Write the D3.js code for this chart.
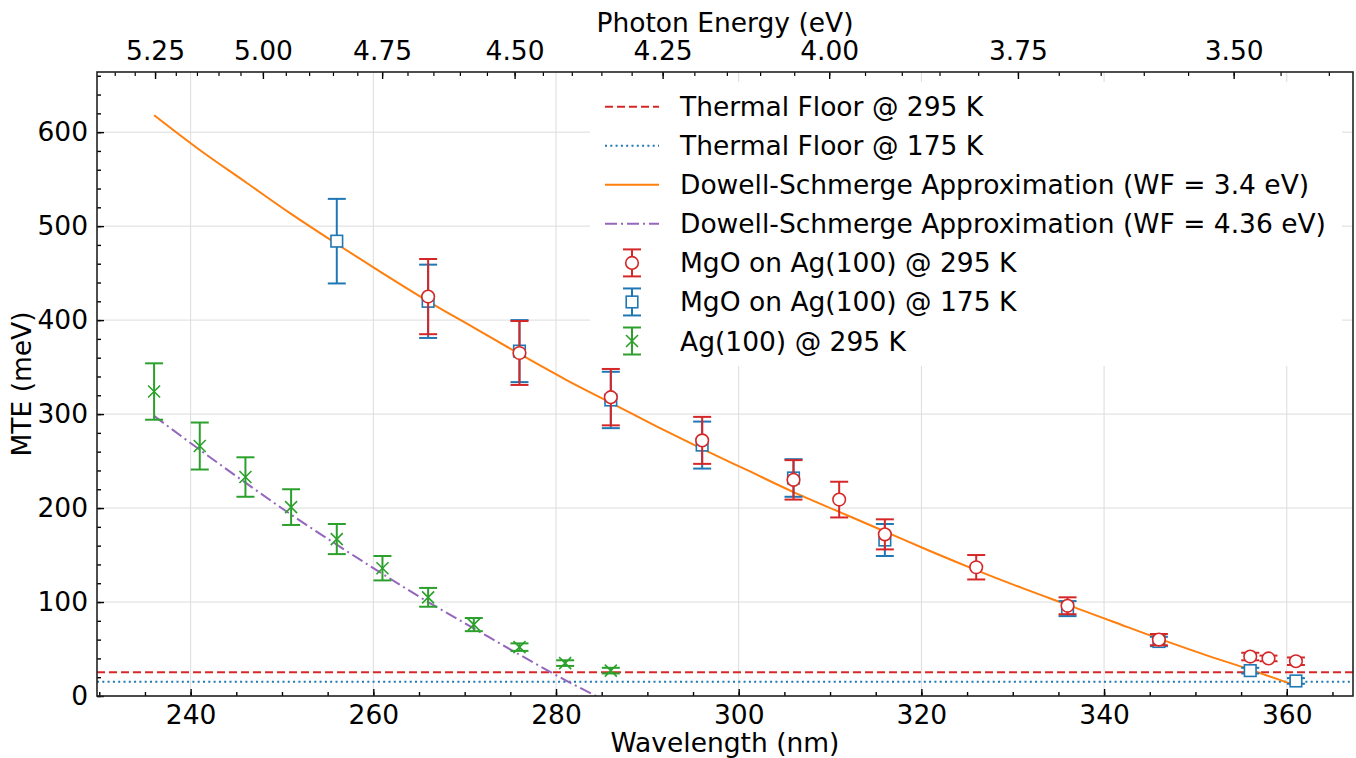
<!DOCTYPE html>
<html>
<head>
	<meta charset="utf-8">
	<title>MTE vs Wavelength</title>
	<script src="https://d3js.org/d3.v7.min.js"></script>
	<style>
		body { margin: 0; background: #fff; }
		svg text { font-family: "DejaVu Sans", sans-serif; fill: #000; }
	</style>
</head>
<body>
	<svg width="1356" height="758"></svg>
	<script>
		// MgO on Ag(100) @ 295 K
		var redWl  = [266, 276, 286, 296, 306, 311, 316, 326, 336, 346, 356, 358, 361];
		var redMte = [425, 365, 318, 272, 230, 209, 172, 137, 96, 60, 42, 40, 37];
		var redErr = [40, 34, 30, 25, 21, 19, 16, 13, 9, 6, 4, 3, 4];

		// MgO on Ag(100) @ 175 K
		var blueWl  = [256, 266, 276, 286, 296, 306, 316, 336, 346, 356, 361];
		var blueMte = [484, 420, 367, 315, 267, 232, 166, 93, 58, 27, 16];
		var blueErr = [45, 39, 33, 30, 25, 20, 17, 8, 5, 3, 3];

		// Ag(100) @ 295 K
		var greenWl  = [236, 241, 246, 251, 256, 261, 266, 271, 276, 281, 286];
		var greenMte = [324, 266, 233, 201, 167, 136, 105, 76, 52, 35, 27];
		var greenErr = [30, 25, 21, 19, 16, 13, 10, 7, 4, 3, 3];

		// Dowell-Schmerge curves
		var dsWl34  = [236, 241, 246, 251, 256, 261, 266, 271, 276, 281, 286, 291, 296, 301, 306, 311, 316, 321, 326, 331, 336, 341, 346, 351, 356, 361];
		var dsMte34 = [618, 581, 547, 513, 481, 450, 420, 392, 364, 337, 312, 287, 263, 240, 217, 196, 175, 154, 134, 115, 97, 79, 61, 44, 28, 11];
		var dsWl436  = [236, 241, 246, 251, 256, 261, 266, 271, 276, 281, 286];
		var dsMte436 = [298, 262, 227, 193, 161, 130, 100, 72, 44, 17, -8];

		var floor295 = 25.4;
		var floor175 = 15.1;

		var xTicks = [240, 260, 280, 300, 320, 340, 360];
		var yTicks = [0, 100, 200, 300, 400, 500, 600];
		var eTicks = [5.25, 5.00, 4.75, 4.50, 4.25, 4.00, 3.75, 3.50];

		var legendLabels = [
			'Thermal Floor @ 295 K',
			'Thermal Floor @ 175 K',
			'Dowell-Schmerge Approximation (WF = 3.4 eV)',
			'Dowell-Schmerge Approximation (WF = 4.36 eV)',
			'MgO on Ag(100) @ 295 K',
			'MgO on Ag(100) @ 175 K',
			'Ag(100) @ 295 K'
		];

		const HC = 1239.84;
		const mLeft = 97, mRight = 1353, mTop = 72, mBottom = 696;
		const fs = 26.5;
		const red = '#d62728', blue = '#1f77b4', green = '#2ca02c', orange = '#ff7f0e', purple = '#9467bd';

		var svg = d3.select('svg');

		const x = d3.scaleLinear().domain([229.75, 367.25]).range([mLeft, mRight]);
		const y = d3.scaleLinear().domain([0, 664]).range([mBottom, mTop]);

		svg.append('clipPath').attr('id', 'clip')
			.append('rect').attr('x', mLeft).attr('y', mTop)
			.attr('width', mRight - mLeft).attr('height', mBottom - mTop);

		// grid
		const grid = svg.append('g').attr('stroke', '#dcdcdc').attr('stroke-width', 1);
		grid.selectAll('.gx').data(xTicks).enter().append('line')
			.attr('x1', d => x(d)).attr('x2', d => x(d)).attr('y1', mTop).attr('y2', mBottom);
		grid.selectAll('.gy').data(yTicks).enter().append('line')
			.attr('y1', d => y(d)).attr('y2', d => y(d)).attr('x1', mLeft).attr('x2', mRight);

		const plot = svg.append('g').attr('clip-path', 'url(#clip)');

		// thermal floors
		plot.append('line').attr('x1', mLeft).attr('x2', mRight)
			.attr('y1', y(floor295)).attr('y2', y(floor295))
			.attr('stroke', red).attr('stroke-width', 2).attr('stroke-dasharray', '8,4');
		plot.append('line').attr('x1', mLeft).attr('x2', mRight)
			.attr('y1', y(floor175)).attr('y2', y(floor175))
			.attr('stroke', blue).attr('stroke-width', 2).attr('stroke-dasharray', '2,3.3');

		const line = d3.line().x(d => x(d[0])).y(d => y(d[1])).curve(d3.curveMonotoneX);
		plot.append('path').datum(d3.zip(dsWl34, dsMte34)).attr('d', line)
			.attr('fill', 'none').attr('stroke', orange).attr('stroke-width', 2);
		plot.append('path').datum(d3.zip(dsWl436, dsMte436)).attr('d', line)
			.attr('fill', 'none').attr('stroke', purple).attr('stroke-width', 2)
			.attr('stroke-dasharray', '12,4,2,4');

		function drawMarker(sel, cx, cy, marker, color) {
			if (marker === 'o') {
				sel.append('circle').attr('cx', cx).attr('cy', cy).attr('r', 6.3)
					.attr('fill', '#fff').attr('stroke', color).attr('stroke-width', 1.6);
			} else if (marker === 's') {
				sel.append('rect').attr('x', cx - 5.8).attr('y', cy - 5.8).attr('width', 11.6).attr('height', 11.6)
					.attr('fill', '#fff').attr('stroke', color).attr('stroke-width', 1.6);
			} else {
				sel.append('path').attr('d', `M${cx-6},${cy-6}L${cx+6},${cy+6}M${cx-6},${cy+6}L${cx+6},${cy-6}`)
					.attr('stroke', color).attr('stroke-width', 1.6);
			}
		}

		function errorbars(wl, val, err, color, marker) {
			const pts = d3.zip(wl, val, err);
			const eb = plot.append('g').selectAll('g').data(pts).enter().append('g')
				.attr('stroke', color).attr('stroke-width', 2).attr('fill', 'none');
			eb.append('line').attr('x1', d => x(d[0])).attr('x2', d => x(d[0]))
				.attr('y1', d => y(d[1] - d[2])).attr('y2', d => y(d[1] + d[2]));
			eb.append('line').attr('x1', d => x(d[0]) - 9).attr('x2', d => x(d[0]) + 9)
				.attr('y1', d => y(d[1] - d[2])).attr('y2', d => y(d[1] - d[2]));
			eb.append('line').attr('x1', d => x(d[0]) - 9).attr('x2', d => x(d[0]) + 9)
				.attr('y1', d => y(d[1] + d[2])).attr('y2', d => y(d[1] + d[2]));
			eb.each(function(d) { drawMarker(d3.select(this), x(d[0]), y(d[1]), marker, color); });
		}

		errorbars(blueWl, blueMte, blueErr, blue, 's');
		errorbars(redWl, redMte, redErr, red, 'o');
		errorbars(greenWl, greenMte, greenErr, green, 'x');

		// bottom axis
		svg.append('g').attr('transform', `translate(0, ${mBottom})`)
			.call(d3.axisBottom(x).tickValues(xTicks).tickFormat(d3.format('d')).tickSize(-7).tickPadding(9));
		svg.append('g').attr('transform', `translate(0, ${mBottom})`)
			.call(d3.axisBottom(x).tickValues(d3.range(230, 367, 5)).tickFormat('').tickSize(-4));

		// left axis
		svg.append('g').attr('transform', `translate(${mLeft}, 0)`)
			.call(d3.axisLeft(y).tickValues(yTicks).tickSize(-7).tickPadding(9));
		svg.append('g').attr('transform', `translate(${mLeft}, 0)`)
			.call(d3.axisLeft(y).tickValues(d3.range(0, 664, 20)).tickFormat('').tickSize(-4));

		// top axis (photon energy)
		const topG = svg.append('g');
		const eMinor = d3.range(3.40, 5.40, 0.05).map(e => +e.toFixed(2))
			.filter(e => HC / e > 229.75 && HC / e < 367.25);
		topG.selectAll('.em').data(eMinor).enter().append('line')
			.attr('x1', d => x(HC / d)).attr('x2', d => x(HC / d))
			.attr('y1', mTop).attr('y2', mTop + 4).attr('stroke', '#000').attr('stroke-width', 1.2);
		topG.selectAll('.eM').data(eTicks).enter().append('line')
			.attr('x1', d => x(HC / d)).attr('x2', d => x(HC / d))
			.attr('y1', mTop).attr('y2', mTop + 7).attr('stroke', '#000').attr('stroke-width', 1.4);
		topG.selectAll('.eL').data(eTicks).enter().append('text')
			.attr('x', d => x(HC / d)).attr('y', mTop - 12).attr('text-anchor', 'middle')
			.style('font-size', fs + 'px').text(d => d.toFixed(2));

		svg.selectAll('.domain').remove();
		svg.selectAll('.tick line').attr('stroke', '#000').attr('stroke-width', 1.4);
		svg.selectAll('.tick text').style('font-size', fs + 'px').attr('fill', '#000');

		// frame
		svg.append('rect').attr('x', mLeft).attr('y', mTop).attr('width', mRight - mLeft).attr('height', mBottom - mTop)
			.attr('fill', 'none').attr('stroke', '#222').attr('stroke-width', 1.6);

		// axis labels
		svg.append('text').attr('x', (mLeft + mRight) / 2).attr('y', 752).attr('text-anchor', 'middle')
			.style('font-size', fs + 'px').text('Wavelength (nm)');
		svg.append('text').attr('x', (mLeft + mRight) / 2).attr('y', 32).attr('text-anchor', 'middle')
			.style('font-size', fs + 'px').text('Photon Energy (eV)');
		svg.append('text').attr('transform', `translate(31, ${(mTop + mBottom) / 2}) rotate(-90)`)
			.attr('text-anchor', 'middle').style('font-size', fs + 'px').text('MTE (meV)');

		// legend
		const leg = svg.append('g');
		leg.append('rect').attr('x', 590).attr('y', 82).attr('width', 752).attr('height', 284).attr('fill', '#fff');
		const rowY = i => 106.7 + i * 39.05;
		const hx0 = 605, hx1 = 659, hxc = 632;
		leg.append('line').attr('x1', hx0).attr('x2', hx1).attr('y1', rowY(0)).attr('y2', rowY(0))
			.attr('stroke', red).attr('stroke-width', 2).attr('stroke-dasharray', '8,4');
		leg.append('line').attr('x1', hx0).attr('x2', hx1).attr('y1', rowY(1)).attr('y2', rowY(1))
			.attr('stroke', blue).attr('stroke-width', 2).attr('stroke-dasharray', '2,3.3');
		leg.append('line').attr('x1', hx0).attr('x2', hx1).attr('y1', rowY(2)).attr('y2', rowY(2))
			.attr('stroke', orange).attr('stroke-width', 2);
		leg.append('line').attr('x1', hx0).attr('x2', hx1).attr('y1', rowY(3)).attr('y2', rowY(3))
			.attr('stroke', purple).attr('stroke-width', 2).attr('stroke-dasharray', '12,4,2,4');
		[[red, 'o'], [blue, 's'], [green, 'x']].forEach(function(m, j) {
			const cy = rowY(4 + j);
			const g = leg.append('g').attr('stroke', m[0]).attr('stroke-width', 2);
			g.append('line').attr('x1', hxc).attr('x2', hxc).attr('y1', cy - 13.5).attr('y2', cy + 13.5);
			g.append('line').attr('x1', hxc - 9).attr('x2', hxc + 9).attr('y1', cy - 13.5).attr('y2', cy - 13.5);
			g.append('line').attr('x1', hxc - 9).attr('x2', hxc + 9).attr('y1', cy + 13.5).attr('y2', cy + 13.5);
			drawMarker(g, hxc, cy, m[1], m[0]);
		});
		leg.selectAll('.lt').data(legendLabels).enter().append('text')
			.attr('x', 680).attr('y', (d, i) => rowY(i)).attr('dy', '0.36em')
			.style('font-size', fs + 'px').text(d => d);
	</script>
</body>
</html>
